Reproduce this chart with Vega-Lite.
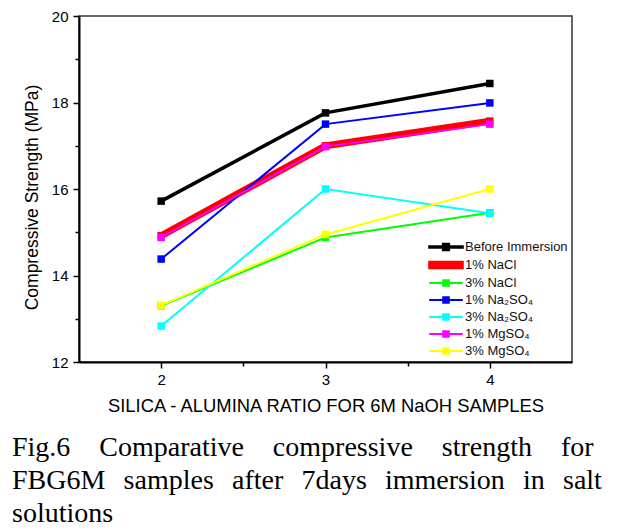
{
  "$schema": "https://vega.github.io/schema/vega-lite/v6.json",
  "width": 493,
  "height": 346,
  "autosize": "none",
  "padding": {"left": 79, "top": 16, "right": 53, "bottom": 169},
  "background": "white",
  "config": {
    "font": "Liberation Sans",
    "view": {"stroke": "#333333", "strokeWidth": 1.5},
    "axis": {
      "grid": false,
      "domainColor": "black",
      "domainWidth": 2,
      "tickColor": "black",
      "tickWidth": 1.5,
      "labelColor": "black",
      "titleColor": "black",
      "labelFont": "Liberation Sans",
      "titleFont": "Liberation Sans",
      "labelFontSize": 15,
      "titleFontWeight": "normal",
      "labelPadding": 5
    }
  },
  "title": {
    "text": [
      "Fig.6 \u2002\u2009\u200aComparative \u2002\u2009\u200acompressive \u2002\u2009\u200astrength \u2002\u2009\u200afor",
      "FBG6M \u2009\u2009samples \u2009\u2009after \u2009\u20097days \u2009\u2009immersion \u2009\u2009in \u2009\u2009salt",
      "solutions"
    ],
    "orient": "bottom",
    "anchor": "start",
    "frame": "group",
    "dx": -67,
    "offset": 20,
    "font": "Liberation Serif",
    "fontSize": 28,
    "fontWeight": "normal",
    "color": "black",
    "lineHeight": 33
  },
  "data": {
    "values": [
      {"series": "Before Immersion", "ratio": 2, "strength": 15.72},
      {"series": "Before Immersion", "ratio": 3, "strength": 17.76},
      {"series": "Before Immersion", "ratio": 4, "strength": 18.44},
      {"series": "1% NaCl", "ratio": 2, "strength": 14.92},
      {"series": "1% NaCl", "ratio": 3, "strength": 17.0},
      {"series": "1% NaCl", "ratio": 4, "strength": 17.57},
      {"series": "3% NaCl", "ratio": 2, "strength": 13.3},
      {"series": "3% NaCl", "ratio": 3, "strength": 14.88},
      {"series": "3% NaCl", "ratio": 4, "strength": 15.45},
      {"series": "1% Na₂SO₄", "ratio": 2, "strength": 14.38},
      {"series": "1% Na₂SO₄", "ratio": 3, "strength": 17.5},
      {"series": "1% Na₂SO₄", "ratio": 4, "strength": 17.99},
      {"series": "3% Na₂SO₄", "ratio": 2, "strength": 12.83},
      {"series": "3% Na₂SO₄", "ratio": 3, "strength": 16.0},
      {"series": "3% Na₂SO₄", "ratio": 4, "strength": 15.44},
      {"series": "1% MgSO₄", "ratio": 2, "strength": 14.88},
      {"series": "1% MgSO₄", "ratio": 3, "strength": 16.98},
      {"series": "1% MgSO₄", "ratio": 4, "strength": 17.5},
      {"series": "3% MgSO₄", "ratio": 2, "strength": 13.31},
      {"series": "3% MgSO₄", "ratio": 3, "strength": 14.95},
      {"series": "3% MgSO₄", "ratio": 4, "strength": 16.0}
    ]
  },
  "encoding": {
    "x": {
      "field": "ratio",
      "type": "quantitative",
      "scale": {"domain": [1.5, 4.5], "nice": false, "zero": false},
      "axis": {
        "title": "SILICA - ALUMINA RATIO FOR 6M NaOH SAMPLES",
        "titleFontSize": 18.4,
        "titlePadding": 9,
        "values": [2, 2.5, 3, 3.5, 4],
        "labelExpr": "datum.value % 1 === 0 ? '' + datum.value : ''",
        "tickSize": {"condition": {"test": "datum.value % 1 === 0", "value": 6}, "value": 4},
        "labelPadding": 4
      }
    },
    "y": {
      "field": "strength",
      "type": "quantitative",
      "scale": {"domain": [12, 20], "nice": false, "zero": false},
      "axis": {
        "title": "Compressive Strength (MPa)",
        "titleFontSize": 17.5,
        "titleAngle": -90,
        "titleX": -47,
        "titleY": 181,
        "titleAlign": "center",
        "titleBaseline": "middle",
        "values": [12, 13, 14, 15, 16, 17, 18, 19, 20],
        "labelExpr": "datum.value % 2 === 0 ? '' + datum.value : ''",
        "tickSize": {"condition": {"test": "datum.value % 2 === 0", "value": 6}, "value": 4}
      }
    },
    "color": {
      "field": "series",
      "type": "nominal",
      "scale": {
        "domain": ["Before Immersion", "1% NaCl", "3% NaCl", "1% Na₂SO₄", "3% Na₂SO₄", "1% MgSO₄", "3% MgSO₄"],
        "range": ["#000000", "#ff0000", "#00ff00", "#0000ff", "#00ffff", "#ff00ff", "#ffff00"]
      },
      "legend": {
        "orient": "none",
        "legendX": 359,
        "legendY": 223,
        "title": null,
        "symbolType": "M-2.4,0L2.4,0M-0.4,-0.4L0.4,-0.4L0.4,0.4L-0.4,0.4Z",
        "symbolSize": 196,
        "symbolStrokeWidth": 2,
        "labelFontSize": 13,
        "labelFont": "Liberation Sans",
        "labelColor": "#111111",
        "labelOffset": 11,
        "rowPadding": 2,
        "encode": {
          "symbols": {
            "update": {
              "shape": {"signal": "datum.value === '1% NaCl' ? 'M-2.4,-0.45L2.4,-0.45L2.4,0.45L-2.4,0.45Z' : (datum.value === 'Before Immersion' ? 'M-2.4,-0.12L2.4,-0.12L2.4,0.12L-2.4,0.12ZM-0.45,-0.45L0.45,-0.45L0.45,0.45L-0.45,0.45Z' : 'M-2.4,0L2.4,0M-0.4,-0.4L0.4,-0.4L0.4,0.4L-0.4,0.4Z')"},
              "stroke": {"scale": "color", "field": "value"},
              "fill": {"scale": "color", "field": "value"},
              "fillOpacity": {"value": 1},
              "strokeWidth": {"value": 2}
            }
          }
        }
      }
    }
  },
  "layer": [
    {
      "mark": {"type": "line"},
      "encoding": {
        "strokeWidth": {
          "condition": [
            {"test": "datum.series === '1% NaCl'", "value": 7},
            {"test": "datum.series === 'Before Immersion'", "value": 3.5}
          ],
          "value": 2
        }
      }
    },
    {
      "mark": {"type": "point", "shape": "square", "filled": true, "size": 56, "opacity": 1},
      "encoding": {}
    }
  ]
}
